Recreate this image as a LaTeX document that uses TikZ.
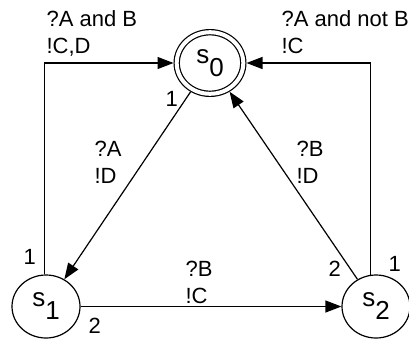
\documentclass[tikz,border=0pt]{standalone}
\usepackage{fontspec}
\setmainfont{Liberation Sans}
\usetikzlibrary{arrows.meta,shapes.geometric}

\newcommand{\stname}[1]{s\raisebox{-0.5em}{#1}}

\begin{document}
\begin{tikzpicture}[x=1pt,y=-1pt,>={Triangle[length=16pt,width=12pt]},line width=1.2pt]
  \tikzset{
    state/.style={draw,ellipse,minimum width=68pt,minimum height=63pt,inner sep=0pt,
                  font=\fontsize{26}{26}\selectfont},
    start/.style={state,double,double distance=4pt,minimum width=66.6pt,
                  minimum height=61.6pt,outer sep=3.2pt},
    lbl/.style={font=\fontsize{22}{27}\selectfont,align=left,anchor=base west,inner sep=0pt},
    num/.style={font=\fontsize{22}{22}\selectfont,anchor=base west,inner sep=0pt}
  }
  \useasboundingbox (0,0) rectangle (409,341);
  % states
  \node[start] (s0) at (210,63) {\stname{0}};
  \node[state] (s1) at (46,306.5) {\stname{1}};
  \node[state] (s2) at (376,306.5) {\stname{2}};
  % transitions
  \draw[->] (s0) -- (s1);
  \draw[->] (s2) -- (s0);
  \draw[->] (s1) -- (s2);
  \draw[->] (s1.92) |- (s0.west);
  \draw[->] (s2.100) |- (s0.east);
  % guards and outputs (placed at the baseline of the last line)
  \node[lbl] (g10) at (46,53) {?A and B\\!C,D};
  \node[lbl] (g20) at (281,53) {?A and not B\\!C};
  \node[lbl] (g01) at (94,183) {?A\\!D};
  \node[lbl] (g21) at (296,183) {?B\\!D};
  \node[lbl] (g12) at (185,303) {?B\\!C};
  % priorities
  \node[num] (p01) at (165,106) {1};
  \node[num] (p10) at (23,264) {1};
  \node[num] (p12) at (88,333) {2};
  \node[num] (p21) at (328,276) {2};
  \node[num] (p20) at (388,271) {1};
\end{tikzpicture}
\end{document}
